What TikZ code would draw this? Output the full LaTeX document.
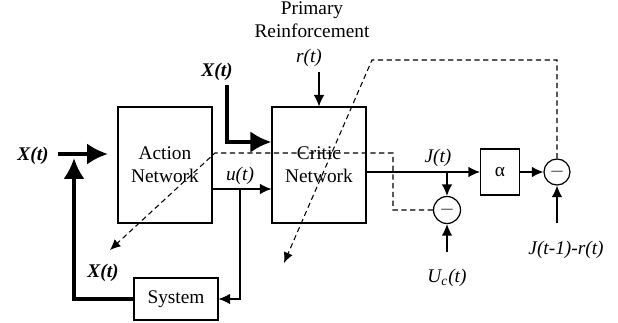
\documentclass[tikz,border=0pt]{standalone}
\usepackage{fontspec}
\setmainfont{Liberation Serif}
\usetikzlibrary{arrows.meta}
\tikzset{
  block/.style={draw=black, line width=0.6pt, fill=white,
                inner sep=2pt, align=center,
                font=\fontsize{11}{13}\selectfont},
  netblock/.style={block, minimum width=18.8mm, minimum height=23.2mm},
  sumnode/.style={draw=black, line width=0.7pt, circle, fill=white,
                  minimum size=5.4mm, inner sep=0pt,
                  font=\fontsize{11}{13}\selectfont},
  lab/.style={font=\fontsize{11}{13}\selectfont\itshape},
  boldlab/.style={font=\fontsize{11}{13}\selectfont\bfseries\itshape},
  plainlab/.style={font=\fontsize{11}{13}\selectfont, align=center},
  flow/.style={-{Latex[length=2.3mm,width=2.1mm]}, line width=0.7pt},
  bigflow/.style={-{Latex[length=4.2mm,width=4.3mm]}, line width=2.8pt},
  trainflow/.style={-{Latex[length=2.1mm,width=1.9mm]}, line width=0.6pt,
                    dash pattern=on 3pt off 2pt},
}

\begin{document}
\begin{tikzpicture}[x=0.02cm,y=-0.02cm]
  \path[use as bounding box] (0,0) rectangle (618,323);

  % blocks
  \node[netblock] (action) at (165,165) {Action\\Network};
  \node[netblock] (critic) at (319,165) {Critic\\Network};
  \node[block, minimum width=16.8mm, minimum height=8.4mm] (system) at (176,299) {System};
  \node[block, minimum width=7.8mm, minimum height=9.2mm] (alpha) at (500,172) {α};
  \node[sumnode] (subc) at (447,210) {$-$};
  \node[sumnode, minimum size=5.2mm] (suba) at (557,172) {$-$};

  % labels
  \node[boldlab] (xleft) at (33,156) {X(t)};
  \node[boldlab] (xtop) at (217,72) {X(t)};
  \node[boldlab] (xsys) at (103,273) {X(t)};
  \node[lab] (ulab) at (240,176) {u(t)};
  \node[lab] (rlab) at (309,58) {r(t)};
  \node[plainlab] (prim) at (312,20) {Primary\\Reinforcement};
  \node[lab] (jlab) at (438,158) {J(t)};
  \node[lab] (uclab) at (447,278) {U\textsubscript{c}(t)};
  \node[lab] (jrlab) at (566,250) {J(t-1)-r(t)};

  % free ends and corners
  \coordinate (xinS) at (58,154);
  \coordinate (xinE) at (108,154);
  \coordinate (fbE) at (74,158);
  \coordinate (xtopS) at (227,85);
  \coordinate (xlev) at (0,142);
  \coordinate (ulev) at (0,189);
  \coordinate (utap) at (240,189);
  \coordinate (rtop) at (319,72);
  \coordinate (ucS) at (447,252);
  \coordinate (jrS) at (557,223);
  \coordinate (dcorner) at (393,153);
  \coordinate (dleft) at (215,153);
  \coordinate (dend) at (110,250);
  \coordinate (dtop) at (372,60);
  \coordinate (dend2) at (284,263);

  % plant signals
  \draw[bigflow] (xinS) -- (xinE);
  \draw[bigflow] (system.west) -| (fbE);
  \draw[bigflow] (xtopS) |- (critic.west |- xlev);
  \draw[flow] (action.east |- ulev) -- (critic.west |- ulev);
  \draw[flow] (utap) |- (system.east);
  \draw[flow] (rtop) -- (critic.north);

  % critic output
  \draw[flow] (critic.east |- alpha.west) -- (alpha.west);
  \draw[flow] (subc |- alpha.west) -- (subc.north);
  \draw[flow] (ucS) -- (subc.south);
  \draw[flow] (alpha.east) -- (suba.west);
  \draw[flow] (jrS) -- (suba.south);

  % training signals
  \draw[trainflow] (subc.west) -| (dcorner) -- (dleft) -- (dend);
  \draw[trainflow] (suba.north) |- (dtop) -- (dend2);
\end{tikzpicture}
\end{document}
